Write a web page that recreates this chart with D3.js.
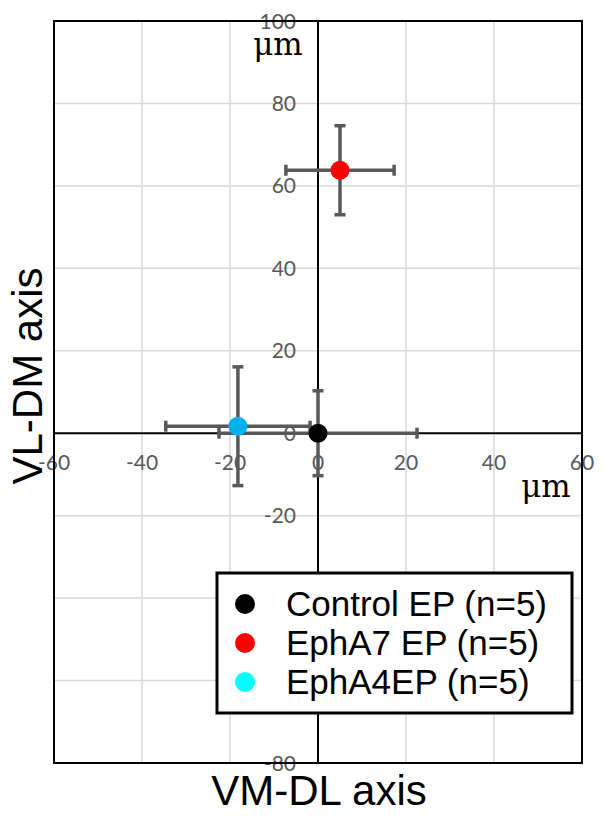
<!DOCTYPE html>
<html>
<head>
<meta charset="utf-8">
<script src="https://cdn.jsdelivr.net/npm/d3@7"></script>
<style>
  body { margin: 0; background: #fff; }
  svg { display: block; }
</style>
</head>
<body>
<script>
// groups, mean position and SD (um)
const groups = ["Control EP (n=5)", "EphA7 EP (n=5)", "EphA4EP (n=5)"];
const xMean = [0, 5.0, -18.2];
const yMean = [0, 63.8, 1.7];
const xErr = [22.5, 12.3, 16.4];
const yErr = [10.3, 10.8, 14.4];
const dotColors = ["#000000", "#ff0000", "#00b0f0"];
const legendColors = ["#000000", "#ff0000", "#00ffff"];

const xTicks = [-60, -40, -20, 0, 20, 40, 60];
const yTicks = [100, 80, 60, 40, 20, 0, -20, -40, -60, -80];
// -40 / -60 labels sit under the legend box in the original
const yHidden = [-40, -60];

const W = 604, H = 816;
const svg = d3.select("body").append("svg").attr("width", W).attr("height", H);

const x = d3.scaleLinear().domain([-60, 60]).range([54, 582]);
const y = d3.scaleLinear().domain([-80, 100]).range([763, 21]);

// grid
svg.append("g").selectAll("line").data(xTicks.filter(d => d != 0 && Math.abs(d) != 60))
  .join("line")
  .attr("x1", d => x(d)).attr("x2", d => x(d))
  .attr("y1", y(100)).attr("y2", y(-80))
  .attr("stroke", "#d9d9d9").attr("stroke-width", 1.5);
svg.append("g").selectAll("line").data(yTicks.filter(d => d != 0 && d != 100 && d != -80))
  .join("line")
  .attr("x1", x(-60)).attr("x2", x(60))
  .attr("y1", d => y(d)).attr("y2", d => y(d))
  .attr("stroke", "#d9d9d9").attr("stroke-width", 1.5);

// tick labels
const tickFont = "Lato, 'Open Sans', sans-serif";
svg.append("g").selectAll("text").data(xTicks)
  .join("text")
  .attr("x", d => x(d)).attr("y", y(0) + 37)
  .attr("text-anchor", "middle")
  .attr("font-family", tickFont).attr("font-size", 21).attr("fill", "#595959")
  .text(d => d);
svg.append("g").selectAll("text").data(yTicks.filter(d => !yHidden.includes(d)))
  .join("text")
  .attr("x", x(0) - 22).attr("y", d => y(d)).attr("dy", "0.36em")
  .attr("text-anchor", "end")
  .attr("font-family", tickFont).attr("font-size", 21).attr("fill", "#595959")
  .text(d => d);

// frame + zero axes
svg.append("rect")
  .attr("x", x(-60)).attr("y", y(100))
  .attr("width", x(60) - x(-60)).attr("height", y(-80) - y(100))
  .attr("fill", "none").attr("stroke", "#000").attr("stroke-width", 2);
svg.append("line").attr("x1", x(-60)).attr("x2", x(60)).attr("y1", y(0)).attr("y2", y(0))
  .attr("stroke", "#000").attr("stroke-width", 2);
svg.append("line").attr("x1", x(0)).attr("x2", x(0)).attr("y1", y(100)).attr("y2", y(-80))
  .attr("stroke", "#000").attr("stroke-width", 2);

// error bars
const eb = svg.append("g").attr("stroke", "#595959").attr("stroke-width", 3.5);
const cap = 5.5;
groups.forEach((g, i) => {
  const cx = x(xMean[i]), cy = y(yMean[i]);
  const x0 = x(xMean[i] - xErr[i]), x1 = x(xMean[i] + xErr[i]);
  const y0 = y(yMean[i] - yErr[i]), y1 = y(yMean[i] + yErr[i]);
  eb.append("line").attr("x1", x0).attr("x2", x1).attr("y1", cy).attr("y2", cy);
  eb.append("line").attr("x1", x0).attr("x2", x0).attr("y1", cy - cap).attr("y2", cy + cap);
  eb.append("line").attr("x1", x1).attr("x2", x1).attr("y1", cy - cap).attr("y2", cy + cap);
  eb.append("line").attr("x1", cx).attr("x2", cx).attr("y1", y0).attr("y2", y1);
  eb.append("line").attr("x1", cx - cap).attr("x2", cx + cap).attr("y1", y0).attr("y2", y0);
  eb.append("line").attr("x1", cx - cap).attr("x2", cx + cap).attr("y1", y1).attr("y2", y1);
});

// points
svg.append("g").selectAll("circle").data(groups)
  .join("circle")
  .attr("cx", (d, i) => x(xMean[i])).attr("cy", (d, i) => y(yMean[i]))
  .attr("r", 9.5).attr("fill", (d, i) => dotColors[i]);

// unit labels
svg.append("text").attr("x", 278).attr("y", 55).attr("text-anchor", "middle")
  .attr("font-family", "'DejaVu Serif', serif").attr("font-size", 31).text("μm");
svg.append("text").attr("x", 546).attr("y", 497).attr("text-anchor", "middle")
  .attr("font-family", "'DejaVu Serif', serif").attr("font-size", 31).text("μm");

// axis titles
const titleFont = "Arial, 'Liberation Sans', sans-serif";
svg.append("text").attr("x", 319).attr("y", 805).attr("text-anchor", "middle")
  .attr("font-family", titleFont).attr("font-size", 42).text("VM-DL axis");
svg.append("text").attr("transform", "translate(42,376) rotate(-90)")
  .attr("text-anchor", "middle")
  .attr("font-family", titleFont).attr("font-size", 42).text("VL-DM axis");

// legend
const lg = svg.append("g");
lg.append("rect").attr("x", 217).attr("y", 573).attr("width", 355).attr("height", 140)
  .attr("fill", "#fff").attr("stroke", "#000").attr("stroke-width", 3);
const rowY = d3.scalePoint().domain(groups).range([604, 682]);
lg.selectAll("circle").data(groups).join("circle")
  .attr("cx", 245).attr("cy", d => rowY(d)).attr("r", 10)
  .attr("fill", (d, i) => legendColors[i]);
lg.selectAll("text").data(groups).join("text")
  .attr("x", 286).attr("y", d => rowY(d) + 12)
  .attr("font-family", titleFont).attr("font-size", 35).text(d => d);
</script>
</body>
</html>
